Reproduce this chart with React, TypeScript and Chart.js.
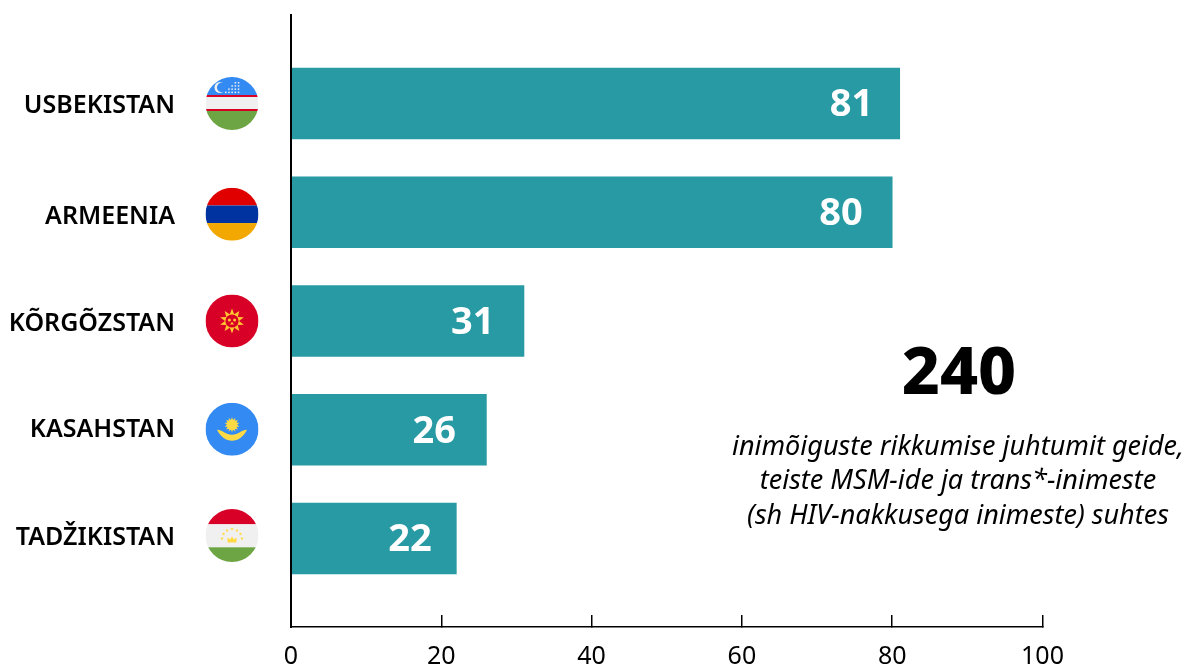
import React, { useEffect, useRef } from "react";
import { Chart, registerables } from "chart.js";

Chart.register(...registerables);

const categories = ["USBEKISTAN", "ARMEENIA", "KÕRGÕZSTAN", "KASAHSTAN", "TADŽIKISTAN"];
const values = [81, 80, 31, 26, 22];
const flagCodes = ["uz", "am", "kg", "kz", "tj"];
const xTicks = [0, 20, 40, 60, 80, 100];
const headline = "240";
const noteLines = [
  "inimõiguste rikkumise juhtumit geide,",
  "teiste MSM-ide ja trans*-inimeste",
  "(sh HIV-nakkusega inimeste) suhtes",
];

const FONT = '"Noto Sans"';
const TEAL = "#279aa3";
const labelNudge = [2.5, 4.5, 2.5, 0, -0.5];
const flagNudge = [0, 2, 0, -0.5, -3];
const valueInset = [26.5, 29.5, 29.5, 30.5, 24.5];

function band(ctx: any, cx: number, cy: number, r: number, y0: number, y1: number, color: string) {
  ctx.fillStyle = color;
  ctx.fillRect(cx - r, cy + y0, r * 2, y1 - y0);
}

function sun(ctx: any, cx: number, cy: number, rays: number, outer: number, inner: number, color: string) {
  ctx.fillStyle = color;
  ctx.beginPath();
  for (let i = 0; i < rays * 2; i++) {
    const a = (Math.PI * i) / rays - Math.PI / 2;
    const rr = i % 2 === 0 ? outer : inner;
    const x = cx + Math.cos(a) * rr;
    const y = cy + Math.sin(a) * rr;
    if (i === 0) ctx.moveTo(x, y);
    else ctx.lineTo(x, y);
  }
  ctx.closePath();
  ctx.fill();
}

function drawFlag(ctx: any, code: string, cx: number, cy: number, r: number) {
  ctx.save();
  ctx.beginPath();
  ctx.arc(cx, cy, r, 0, Math.PI * 2);
  ctx.clip();
  if (code === "uz") {
    band(ctx, cx, cy, r, -r, -8.5, "#338af3");
    band(ctx, cx, cy, r, -8.5, -6.5, "#d80027");
    band(ctx, cx, cy, r, -6.5, 5.5, "#f0f0f0");
    band(ctx, cx, cy, r, 5.5, 7.5, "#d80027");
    band(ctx, cx, cy, r, 7.5, r, "#6da544");
    ctx.fillStyle = "#f0f0f0";
    ctx.beginPath();
    ctx.arc(cx - 12, cy - 16, 5.5, 0, Math.PI * 2);
    ctx.fill();
    ctx.fillStyle = "#338af3";
    ctx.beginPath();
    ctx.arc(cx - 10, cy - 16, 5, 0, Math.PI * 2);
    ctx.fill();
    ctx.fillStyle = "#f0f0f0";
    for (let row = 0; row < 4; row++) {
      for (let col = 0; col < 5; col++) {
        if (row === 0 && col < 3) continue;
        if (row === 1 && col < 2) continue;
        if (row === 2 && col < 1) continue;
        ctx.fillRect(cx - 7 + col * 3.2, cy - 21.5 + row * 3.2, 1.5, 1.5);
      }
    }
  } else if (code === "am") {
    band(ctx, cx, cy, r, -r, -8.8, "#e00000");
    band(ctx, cx, cy, r, -8.8, 8.8, "#0033a0");
    band(ctx, cx, cy, r, 8.8, r, "#f2a800");
  } else if (code === "kg") {
    band(ctx, cx, cy, r, -r, r, "#d80027");
    sun(ctx, cx, cy, 10, 12.5, 7, "#ffc82e");
    ctx.fillStyle = "#d80027";
    ctx.beginPath();
    ctx.arc(cx, cy, 6.6, 0, Math.PI * 2);
    ctx.fill();
    ctx.fillStyle = "#ffc82e";
    ctx.beginPath();
    ctx.arc(cx - 2.6, cy - 1, 1.5, 0, Math.PI * 2);
    ctx.arc(cx + 2.6, cy - 1, 1.5, 0, Math.PI * 2);
    ctx.fill();
    ctx.beginPath();
    ctx.moveTo(cx - 2, cy + 3.6);
    ctx.lineTo(cx, cy + 0.8);
    ctx.lineTo(cx + 2, cy + 3.6);
    ctx.closePath();
    ctx.fill();
  } else if (code === "kz") {
    band(ctx, cx, cy, r, -r, r, "#338af3");
    sun(ctx, cx, cy - 4.5, 14, 7.5, 5, "#ffda44");
    ctx.fillStyle = "#ffda44";
    ctx.beginPath();
    ctx.moveTo(cx - 15, cy + 0.5);
    ctx.bezierCurveTo(cx - 11, cy + 8, cx - 6, cy + 11.5, cx, cy + 11.5);
    ctx.bezierCurveTo(cx + 6, cy + 11.5, cx + 11, cy + 8, cx + 15, cy + 0.5);
    ctx.bezierCurveTo(cx + 8, cy + 1, cx + 7, cy + 5.5, cx, cy + 5.5);
    ctx.bezierCurveTo(cx - 7, cy + 5.5, cx - 8, cy + 1, cx - 15, cy + 0.5);
    ctx.closePath();
    ctx.fill();
  } else {
    band(ctx, cx, cy, r, -r, -11.2, "#d80027");
    band(ctx, cx, cy, r, -11.2, 11.8, "#f0f0f0");
    band(ctx, cx, cy, r, 11.8, r, "#6da544");
    ctx.fillStyle = "#ffda44";
    ctx.beginPath();
    ctx.moveTo(cx - 4.5, cy + 7);
    ctx.lineTo(cx - 4.5, cy + 2);
    ctx.lineTo(cx - 2, cy + 4);
    ctx.lineTo(cx, cy + 1);
    ctx.lineTo(cx + 2, cy + 4);
    ctx.lineTo(cx + 4.5, cy + 2);
    ctx.lineTo(cx + 4.5, cy + 7);
    ctx.closePath();
    ctx.fill();
    const stars = [[-10, 3], [-8.5, -1.5], [-5, -5], [0, -6.5], [5, -5], [8.5, -1.5], [10, 3]];
    for (const [dx, dy] of stars) sun(ctx, cx + dx, cy + dy, 5, 1.8, 0.8, "#ffda44");
  }
  ctx.restore();
}

const overlay = {
  id: "overlay",
  afterDatasetsDraw(chart: any) {
    const { ctx, scales } = chart;
    const y = scales.y;
    const x = scales.x;
    ctx.save();
    ctx.textBaseline = "middle";
    ctx.textAlign = "right";
    ctx.font = `600 25px ${FONT}`;
    categories.forEach((c, i) => {
      const py = y.getPixelForValue(i);
      ctx.fillStyle = "#000";
      ctx.fillText(c, x.getPixelForValue(0) - 116, py + labelNudge[i]);
      drawFlag(ctx, flagCodes[i], x.getPixelForValue(0) - 59, py + flagNudge[i], 26.5);
    });
    ctx.fillStyle = "#fff";
    ctx.font = `700 38px ${FONT}`;
    values.forEach((v, i) => {
      ctx.fillText(String(v), x.getPixelForValue(v) - valueInset[i], y.getPixelForValue(i) + 2);
    });
    const ax = x.getPixelForValue(88.75);
    ctx.fillStyle = "#000";
    ctx.textAlign = "center";
    ctx.font = `800 66px ${FONT}`;
    ctx.fillText(headline, ax + 1, 375);
    ctx.font = `italic 400 27px ${FONT}`;
    noteLines.forEach((l, i) => ctx.fillText(l, ax, 447 + i * 34.5));
    ctx.restore();
  },
};

export default function App() {
  const ref = useRef<HTMLCanvasElement>(null);
  useEffect(() => {
    document.body.style.margin = "0";
    const chart = new Chart(ref.current!, {
      type: "bar",
      data: {
        datasets: [
          {
            data: values.map((v, i) => ({ x: v, y: i })),
            backgroundColor: TEAL,
            barThickness: 71,
          },
        ],
      },
      options: {
        indexAxis: "y",
        animation: false,
        responsive: false,
        parsing: false,
        layout: { padding: { top: 15, right: 143.5, left: 0, bottom: 0 } },
        plugins: { legend: { display: false }, tooltip: { enabled: false } },
        scales: {
          x: {
            type: "linear",
            min: 0,
            max: 100,
            afterBuildTicks: (s: any) => {
              s.ticks = xTicks.map((value) => ({ value }));
            },
            afterFit: (s: any) => {
              s.height = 39;
            },
            grid: { drawOnChartArea: false, drawTicks: true, tickLength: -12, color: "#000", lineWidth: 1.5 },
            border: { color: "#000", width: 1.5 },
            ticks: {
              color: "#000",
              padding: 27,
              maxRotation: 0,
              font: { family: FONT, size: 25 },
            },
          },
          y: {
            type: "linear",
            reverse: true,
            offset: false,
            min: -0.8138,
            max: 4.8138,
            afterFit: (s: any) => {
              s.width = 291;
            },
            grid: { display: false, offset: false },
            border: { color: "#000", width: 2, z: 2 },
            ticks: { display: false },
          },
        },
      },
      plugins: [overlay],
    } as any);
    return () => chart.destroy();
  }, []);
  return (
    <div style={{ width: 1186, height: 666, background: "#fff" }}>
      <canvas ref={ref} width={1186} height={666} style={{ display: "block" }} />
    </div>
  );
}
